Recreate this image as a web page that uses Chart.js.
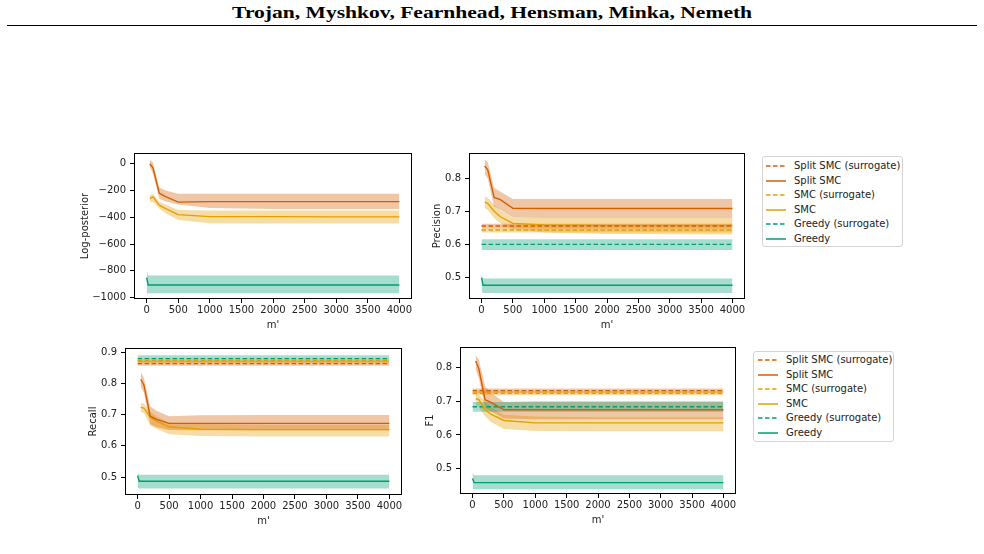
<!DOCTYPE html>
<html>
<head>
<meta charset="utf-8">
<script src="https://cdn.jsdelivr.net/npm/chart.js@4.4.1/dist/chart.umd.min.js"></script>
<style>
  html, body { margin:0; padding:0; background:#fff; }
  body { width:984px; height:554px; position:relative; overflow:hidden; font-family:"DejaVu Sans", sans-serif; }
  #header { position:absolute; left:0; top:3px; width:984px; text-align:center; font-family:"Liberation Serif","DejaVu Serif",serif; font-weight:bold; font-size:17px; line-height:20px; color:#000; }
  #header span { display:inline-block; transform-origin:center; }
  #rule { position:absolute; left:7px; top:25px; width:970px; height:1px; background:#000; }
  canvas { position:absolute; }
  .legend { position:absolute; background:#fff; border:1px solid #d4d4d4; border-radius:3px; box-sizing:border-box; }
  .legend .row { position:absolute; left:0; height:14px; font-size:10px; line-height:14px; color:#222; white-space:nowrap; }
  .legend svg { position:absolute; top:2px; }
  .legend .lbl { position:absolute; top:0; }
</style>
</head>
<body>
<div id="header"><span id="hdr">Trojan, Myshkov, Fearnhead, Hensman, Minka, Nemeth</span></div>
<div id="rule"></div>
<canvas id="c1"></canvas>
<canvas id="c2"></canvas>
<canvas id="c3"></canvas>
<canvas id="c4"></canvas>
<div class="legend" id="leg1"></div>
<div class="legend" id="leg2"></div>
<script>
// ---------- data ----------
const mSmc = [50, 100, 200, 300, 500, 1000, 2000, 3000, 4000];
const mGreedy = [0, 25, 4000];
const mSurrogate = [0, 4000];
const xTicks = [0, 500, 1000, 1500, 2000, 2500, 3000, 3500, 4000];

const seriesNames = ["Split SMC (surrogate)", "Split SMC", "SMC (surrogate)", "SMC", "Greedy (surrogate)", "Greedy"];

// Log-posterior
const lpSplitMean  = [0, -30, -220, -245, -287, -283, -283, -283, -283];
const lpSplitUpper = [30, 10, -178, -200, -225, -225, -224, -224, -224];
const lpSplitLower = [-25, -75, -262, -282, -304, -330, -338, -338, -338];
const lpSmcMean  = [-260, -248, -310, -335, -380, -395, -395, -397, -397];
const lpSmcUpper = [-235, -225, -285, -305, -345, -350, -350, -350, -350];
const lpSmcLower = [-290, -285, -335, -370, -420, -445, -447, -447, -447];
const lpGreedyMean  = [-850, -905, -905];
const lpGreedyUpper = [-800, -835, -835];
const lpGreedyLower = [-970, -968, -968];
const lpTicks = [-1000, -800, -600, -400, -200, 0];

// Precision
const prSplitMean  = [0.839, 0.826, 0.743, 0.736, 0.710, 0.709, 0.709, 0.709, 0.709];
const prSplitUpper = [0.858, 0.850, 0.772, 0.760, 0.738, 0.738, 0.738, 0.738, 0.738];
const prSplitLower = [0.815, 0.800, 0.715, 0.705, 0.682, 0.680, 0.680, 0.680, 0.680];
const prSmcMean  = [0.729, 0.724, 0.701, 0.684, 0.664, 0.659, 0.658, 0.658, 0.658];
const prSmcUpper = [0.746, 0.742, 0.720, 0.703, 0.681, 0.680, 0.680, 0.680, 0.680];
const prSmcLower = [0.711, 0.705, 0.680, 0.664, 0.646, 0.636, 0.632, 0.631, 0.630];
const prSplitSurMean = [0.656, 0.656], prSplitSurUpper = [0.663, 0.663], prSplitSurLower = [0.649, 0.649];
const prSmcSurMean = [0.644, 0.644], prSmcSurUpper = [0.651, 0.651], prSmcSurLower = [0.636, 0.636];
const prGreedySurMean = [0.600, 0.600], prGreedySurUpper = [0.616, 0.616], prGreedySurLower = [0.583, 0.583];
const prGreedyMean  = [0.498, 0.476, 0.476];
const prGreedyUpper = [0.510, 0.496, 0.496];
const prGreedyLower = [0.455, 0.452, 0.452];
const prTicks = [0.5, 0.6, 0.7, 0.8];

// Recall
const reSplitMean  = [0.813, 0.795, 0.695, 0.685, 0.672, 0.672, 0.672, 0.672, 0.672];
const reSplitUpper = [0.837, 0.818, 0.727, 0.712, 0.695, 0.698, 0.699, 0.699, 0.699];
const reSplitLower = [0.790, 0.770, 0.670, 0.660, 0.651, 0.650, 0.650, 0.650, 0.650];
const reSmcMean  = [0.723, 0.721, 0.692, 0.679, 0.661, 0.653, 0.652, 0.652, 0.652];
const reSmcUpper = [0.737, 0.735, 0.710, 0.695, 0.674, 0.670, 0.668, 0.668, 0.668];
const reSmcLower = [0.708, 0.705, 0.665, 0.655, 0.637, 0.632, 0.630, 0.630, 0.630];
const reSplitSurMean = [0.863, 0.863], reSplitSurUpper = [0.870, 0.870], reSplitSurLower = [0.856, 0.856];
const reSmcSurMean = [0.872, 0.872], reSmcSurUpper = [0.877, 0.877], reSmcSurLower = [0.865, 0.865];
const reGreedySurMean = [0.879, 0.879], reGreedySurUpper = [0.890, 0.890], reGreedySurLower = [0.868, 0.868];
const reGreedyMean  = [0.505, 0.487, 0.487];
const reGreedyUpper = [0.516, 0.508, 0.508];
const reGreedyLower = [0.465, 0.464, 0.464];
const reTicks = [0.5, 0.6, 0.7, 0.8, 0.9];

// F1
const f1SplitMean  = [0.820, 0.797, 0.705, 0.696, 0.675, 0.675, 0.675, 0.675, 0.675];
const f1SplitUpper = [0.837, 0.825, 0.745, 0.725, 0.698, 0.700, 0.700, 0.700, 0.700];
const f1SplitLower = [0.795, 0.770, 0.680, 0.670, 0.649, 0.647, 0.647, 0.647, 0.647];
const f1SmcMean  = [0.708, 0.705, 0.675, 0.661, 0.643, 0.636, 0.636, 0.636, 0.636];
const f1SmcUpper = [0.723, 0.720, 0.700, 0.682, 0.660, 0.655, 0.653, 0.653, 0.653];
const f1SmcLower = [0.690, 0.685, 0.655, 0.638, 0.618, 0.612, 0.611, 0.611, 0.611];
const f1SplitSurMean = [0.732, 0.732], f1SplitSurUpper = [0.738, 0.738], f1SplitSurLower = [0.725, 0.725];
const f1SmcSurMean = [0.724, 0.724], f1SmcSurUpper = [0.731, 0.731], f1SmcSurLower = [0.718, 0.718];
const f1GreedySurMean = [0.684, 0.684], f1GreedySurUpper = [0.698, 0.698], f1GreedySurLower = [0.669, 0.669];
const f1GreedyMean  = [0.470, 0.458, 0.458];
const f1GreedyUpper = [0.487, 0.480, 0.480];
const f1GreedyLower = [0.440, 0.438, 0.438];
const f1Ticks = [0.5, 0.6, 0.7, 0.8];

// ---------- styling ----------
const COL = { split: "#d55e00", smc: "#e69f00", greedy: "#009e73" };
const BAND = { split: "rgba(213,94,0,0.35)", smc: "rgba(230,159,0,0.35)", greedy: "rgba(0,158,115,0.35)" };
const DASH = [4.5, 2.5];

function pts(xs, ys) { return xs.map((x, i) => ({ x: x, y: ys[i] })); }
function band(xs, up, lo, color) {
  return [
    { data: pts(xs, up), borderWidth: 0, pointRadius: 0, fill: "+1", backgroundColor: color, order: 2 },
    { data: pts(xs, lo), borderWidth: 0, pointRadius: 0, fill: false, order: 2 }
  ];
}
function line(xs, ys, color, dashed) {
  return { data: pts(xs, ys), borderColor: color, borderWidth: 1.4, pointRadius: 0, fill: false,
           borderDash: dashed ? DASH : [], order: 1, tension: 0 };
}

const frame = {
  id: "frame",
  afterDraw(chart) {
    const a = chart.chartArea, ctx = chart.ctx;
    ctx.save();
    ctx.strokeStyle = "#000"; ctx.lineWidth = 1;
    ctx.strokeRect(Math.round(a.left) + 0.5, Math.round(a.top) + 0.5, Math.round(a.right - a.left) - 1, Math.round(a.bottom - a.top) - 1);
    ctx.restore();
  }
};

const TOP = 8, RIGHT = 8, XH = 32;
function makeChart(id, box, yW, ymin, ymax, yTicks, yTitle, yFmt, datasets) {
  const cv = document.getElementById(id);
  const w = yW + (box.r - box.l) + RIGHT, h = TOP + (box.b - box.t) + XH;
  cv.style.left = (box.l - yW) + "px"; cv.style.top = (box.t - TOP) + "px";
  cv.style.width = w + "px"; cv.style.height = h + "px";
  cv.width = w; cv.height = h;
  const tickFont = { family: "DejaVu Sans", size: 10 };
  new Chart(cv, {
    type: "line",
    data: { datasets: datasets },
    options: {
      responsive: false, animation: false, devicePixelRatio: 1,
      layout: { padding: { top: TOP, right: RIGHT, left: 0, bottom: 0 } },
      plugins: { legend: { display: false }, tooltip: { enabled: false }, filler: { propagate: false } },
      scales: {
        x: {
          type: "linear", min: -200, max: 4200,
          afterBuildTicks: s => { s.ticks = xTicks.map(v => ({ value: v })); },
          afterFit: s => { s.height = XH; },
          grid: { drawOnChartArea: false, drawTicks: true, tickLength: 4, tickColor: "#000", tickWidth: 1 },
          border: { display: false },
          ticks: { font: tickFont, color: "#222", padding: 1, maxRotation: 0, autoSkip: false, callback: v => String(v) },
          title: { display: true, text: "m'", font: tickFont, color: "#222", padding: { top: 0, bottom: 0 } }
        },
        y: {
          type: "linear", min: ymin, max: ymax,
          afterBuildTicks: s => { s.ticks = yTicks.map(v => ({ value: v })); },
          afterFit: s => { s.width = yW; },
          grid: { drawOnChartArea: false, drawTicks: true, tickLength: 4, tickColor: "#000", tickWidth: 1 },
          border: { display: false },
          ticks: { font: tickFont, color: "#222", padding: 4, autoSkip: false, callback: yFmt },
          title: { display: true, text: yTitle, font: tickFont, color: "#222", padding: { top: 0, bottom: 0 } }
        }
      }
    },
    plugins: [frame]
  });
}

const fmtNeg = v => (v < 0 ? "\u2212" + Math.abs(v) : String(v));
const fmt1 = v => v.toFixed(1);

function fullSet(o) {
  let ds = [];
  if (o.splitSur) ds = ds.concat(band(mSurrogate, o.splitSur[1], o.splitSur[2], BAND.split));
  if (o.smcSur) ds = ds.concat(band(mSurrogate, o.smcSur[1], o.smcSur[2], BAND.smc));
  if (o.greedySur) ds = ds.concat(band(mSurrogate, o.greedySur[1], o.greedySur[2], BAND.greedy));
  ds = ds.concat(band(mSmc, o.split[1], o.split[2], BAND.split));
  ds = ds.concat(band(mSmc, o.smc[1], o.smc[2], BAND.smc));
  ds = ds.concat(band(mGreedy, o.greedy[1], o.greedy[2], BAND.greedy));
  if (o.splitSur) ds.push(line(mSurrogate, o.splitSur[0], COL.split, true));
  ds.push(line(mSmc, o.split[0], COL.split, false));
  if (o.smcSur) ds.push(line(mSurrogate, o.smcSur[0], COL.smc, true));
  ds.push(line(mSmc, o.smc[0], COL.smc, false));
  if (o.greedySur) ds.push(line(mSurrogate, o.greedySur[0], COL.greedy, true));
  ds.push(line(mGreedy, o.greedy[0], COL.greedy, false));
  return ds;
}

makeChart("c1", { l: 134, t: 151, r: 412, b: 299 }, 55, -1010, 80, lpTicks, "Log-posterior", fmtNeg, fullSet({
  split: [lpSplitMean, lpSplitUpper, lpSplitLower],
  smc: [lpSmcMean, lpSmcUpper, lpSmcLower],
  greedy: [lpGreedyMean, lpGreedyUpper, lpGreedyLower]
}));
makeChart("c2", { l: 469, t: 151, r: 745, b: 299 }, 38, 0.434, 0.878, prTicks, "Precision", fmt1, fullSet({
  splitSur: [prSplitSurMean, prSplitSurUpper, prSplitSurLower],
  smcSur: [prSmcSurMean, prSmcSurUpper, prSmcSurLower],
  greedySur: [prGreedySurMean, prGreedySurUpper, prGreedySurLower],
  split: [prSplitMean, prSplitUpper, prSplitLower],
  smc: [prSmcMean, prSmcUpper, prSmcLower],
  greedy: [prGreedyMean, prGreedyUpper, prGreedyLower]
}));
makeChart("c3", { l: 125, t: 346, r: 402, b: 495 }, 38, 0.443, 0.913, reTicks, "Recall", fmt1, fullSet({
  splitSur: [reSplitSurMean, reSplitSurUpper, reSplitSurLower],
  smcSur: [reSmcSurMean, reSmcSurUpper, reSmcSurLower],
  greedySur: [reGreedySurMean, reGreedySurUpper, reGreedySurLower],
  split: [reSplitMean, reSplitUpper, reSplitLower],
  smc: [reSmcMean, reSmcUpper, reSmcLower],
  greedy: [reGreedyMean, reGreedyUpper, reGreedyLower]
}));
makeChart("c4", { l: 460, t: 345, r: 736, b: 494 }, 36, 0.424, 0.862, f1Ticks, "F1", fmt1, fullSet({
  splitSur: [f1SplitSurMean, f1SplitSurUpper, f1SplitSurLower],
  smcSur: [f1SmcSurMean, f1SmcSurUpper, f1SmcSurLower],
  greedySur: [f1GreedySurMean, f1GreedySurUpper, f1GreedySurLower],
  split: [f1SplitMean, f1SplitUpper, f1SplitLower],
  smc: [f1SmcMean, f1SmcUpper, f1SmcLower],
  greedy: [f1GreedyMean, f1GreedyUpper, f1GreedyLower]
}));

// ---------- legends ----------
const legendStyle = [
  { c: COL.split, d: true }, { c: COL.split, d: false },
  { c: COL.smc, d: true }, { c: COL.smc, d: false },
  { c: COL.greedy, d: true }, { c: COL.greedy, d: false }
];
function buildLegend(id, left, top, w, h, lineX, textX, firstRowY) {
  const el = document.getElementById(id);
  el.style.left = left + "px"; el.style.top = top + "px";
  el.style.width = w + "px"; el.style.height = h + "px";
  let html = "";
  seriesNames.forEach((name, i) => {
    const s = legendStyle[i];
    const y = firstRowY + i * 14.5 - top - 7;
    html += '<div class="row" style="top:' + y + 'px;width:' + w + 'px">' +
      '<svg width="22" height="10" style="left:' + (lineX - left) + 'px"><line x1="0" y1="5" x2="20" y2="5" stroke="' + s.c +
      '" stroke-width="1.5"' + (s.d ? ' stroke-dasharray="4.5,2.5"' : '') + '/></svg>' +
      '<span class="lbl" style="left:' + (textX - left) + 'px">' + name + '</span></div>';
  });
  el.innerHTML = html;
}
buildLegend("leg1", 762, 156, 141, 91, 765, 793, 165);
buildLegend("leg2", 753, 351, 141, 91, 757, 785, 359);

// header width fit
const hdr = document.getElementById("hdr");
const hw = hdr.getBoundingClientRect().width;
hdr.style.transform = "scaleX(" + (520 / hw) + ")";
</script>
</body>
</html>
